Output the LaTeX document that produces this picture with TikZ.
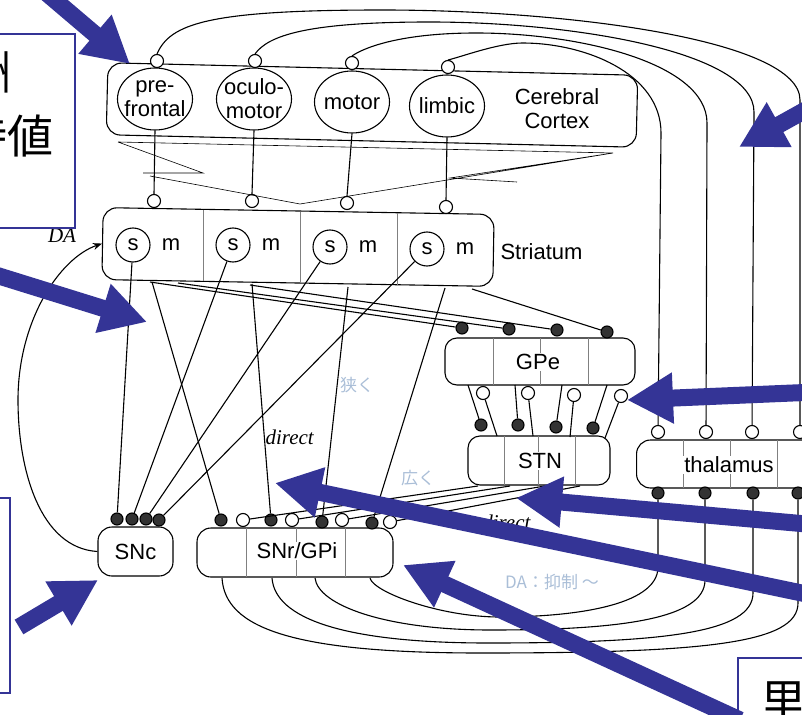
\documentclass[tikz,border=0pt]{standalone}
\usepackage{fontspec}
\setmainfont{Liberation Serif}
\setsansfont{Liberation Sans}
\newfontfamily\cjk{Noto Sans CJK JP}
\usepackage{tikz}
\usetikzlibrary{arrows.meta, shapes.geometric}
\usepackage{xcolor}
\definecolor{slideblue}{RGB}{52,52,150}
\definecolor{pencil}{RGB}{170,190,215}

\begin{document}
\begin{tikzpicture}[x=1pt, y=-1pt, line width=1.1pt,
    area/.style={draw, rounded corners=14pt, inner sep=0pt},
    region/.style={ellipse, draw, minimum width=75pt, minimum height=62pt, inner sep=0pt},
    unit/.style={circle, draw, minimum size=34pt, inner sep=0pt, font=\sffamily\fontsize{22}{22}\selectfont},
    exc/.style={circle, draw, fill=white, minimum size=13pt, inner sep=0pt},
    inh/.style={circle, draw, fill=black!80, minimum size=12pt, inner sep=0pt},
    lab/.style={font=\sffamily\fontsize{22}{24}\selectfont, align=center, inner sep=1pt},
    tag/.style={lab, fill=white},
    divider/.style={draw=black!50, line width=0.5pt},
    fine/.style={line width=0.6pt},
    ital/.style={font=\itshape\fontsize{21}{21}\selectfont, inner sep=0pt},
    pencilnote/.style={text=pencil, font=\cjk\fontsize{17}{17}\selectfont},
    note/.style={draw=slideblue, line width=1.6pt, fill=white},
    jp/.style={font=\cjk\fontsize{46}{50}\selectfont, inner sep=0pt},
    pointer/.style={draw=slideblue, line width=17pt, -{Triangle[length=46pt,width=48pt]}}]
\useasboundingbox (0,0) rectangle (802,714);

% cerebral cortex
\node[area, minimum width=530pt, minimum height=72pt, rotate=-1.35] (cortex) at (372,105) {};
\foreach \reg/\x/\y/\txt in {pf/155/99/{pre-\\frontal}, om/254/99/{oculo-\\motor}, mo/352/102/motor, lb/447/106/limbic}
  \node[region] (\reg) at (\x,\y) {} node[lab] at (\x,\y) {\txt};
\node[lab] (ctxlab) at (557,109) {Cerebral\\Cortex};
\foreach \n/\x/\y in {1/157/61, 2/255/61, 3/352/63, 4/448/67}
  \node[exc] (ct\n) at (\x,\y) {};

% striatum
\node[area, minimum width=391pt, minimum height=72pt, rotate=-1] (str) at (298,247) {};
\foreach \x/\ya/\yb in {203/210/281, 300/212/283, 397/213/285}
  \draw[divider] (\x,\ya) -- (\x,\yb);
\foreach \n/\x/\y in {1/133/245, 2/233/245, 3/330/247, 4/427/249}
  \node[unit] (s\n) at (\x,\y) {s} node[lab] at (\x+38,\y) {m};
\node[lab, anchor=west] (strlab) at (499,252) {Striatum};
\foreach \n/\x/\y in {1/154/201, 2/252/201, 3/347/203, 4/446/207}
  \node[exc] (st\n) at (\x,\y) {};

% GPe, STN, thalamus
\node[area, rounded corners=12pt, minimum width=190pt, minimum height=47pt] (gpe) at (540,361.5) {};
\foreach \x in {493,540,588} \draw[divider] (\x,338) -- (\x,385);
\node[tag] at (538,362) {GPe};
\node[area, rounded corners=12pt, minimum width=142pt, minimum height=49pt] (stn) at (539,460.5) {};
\foreach \x in {504,538,575} \draw[divider] (\x,436) -- (\x,485);
\node[tag] at (540,461) {STN};
\node[area, anchor=west, minimum width=230pt, minimum height=48pt] (thal) at (636,464) {};
\foreach \x in {683,730,777} \draw[divider] (\x,440) -- (\x,488);
\node[tag] at (729,465) {thalamus};

% SNc, SNr/GPi
\node[area, lab, minimum width=75pt, minimum height=49pt] (snc) at (135.5,551.5) {SNc};
\node[area, minimum width=196pt, minimum height=49pt] (snr) at (295,552.5) {};
\foreach \x in {246,296,345} \draw[divider] (\x,528) -- (\x,577);
\node[tag] at (297,551) {SNr/GPi};

% synapses
\foreach \n/\x/\y in {1/462/328, 2/509/329, 3/557/330, 4/607/332} \node[inh] (gd\n) at (\x,\y) {};
\foreach \n/\x/\y in {1/483/393, 2/528/393, 3/574/395, 4/621/396} \node[exc] (gc\n) at (\x,\y) {};
\foreach \n/\x/\y in {1/481/425, 2/518/425, 3/556/427, 4/593/428} \node[inh] (td\n) at (\x,\y) {};
\foreach \n/\x/\y in {1/658/432, 2/706/432, 3/752/432, 4/800/432} \node[exc] (tc\n) at (\x,\y) {};
\foreach \n/\x/\y in {1/658/493, 2/705/493, 3/753/493, 4/798/493} \node[inh] (tb\n) at (\x,\y) {};
\foreach \n/\x/\y in {1/117/519, 2/132/519, 3/146/519, 4/159/520} \node[inh] (cd\n) at (\x,\y) {};
\foreach \n/\x/\y in {1/221/520, 2/271/520, 3/322/522, 4/372/523} \node[inh] (sd\n) at (\x,\y) {};
\foreach \n/\x/\y in {1/243/520, 2/292/520, 3/342/520, 4/390/522} \node[exc] (sc\n) at (\x,\y) {};

% exit points on the boxes
\foreach \n/\x/\y in {1/150/282, 2/178/283, 3/250/285, 4/472/289} \coordinate (sg\n) at (\x,\y);
\foreach \n/\x/\y in {1/152/282, 2/252/284, 3/348/287, 4/445/288} \coordinate (sn\n) at (\x,\y);
\foreach \n/\x in {1/468, 2/515, 3/562, 4/607} \coordinate (gb\n) at (\x,385);
\foreach \n/\x/\y in {1/497/436, 2/533/436, 3/570/437, 4/605/438} \coordinate (tt\n) at (\x,\y);
\foreach \n/\x in {1/478, 2/510, 3/545, 4/580} \coordinate (tn\n) at (\x,486);

% projections
\foreach \reg/\n in {pf/1, om/2, mo/3, lb/4}
  \draw (\reg.south) -- (st\n.north);
\foreach \n in {1,...,4} {
  \draw (sg\n) -- (gd\n);
  \draw (sn\n) -- (sd\n);
  \draw (s\n) -- (cd\n);
  \draw (gb\n) -- (td\n);
  \draw (tt\n) -- (gc\n);
  \draw (tn\n) -- (sc\n);
}
% cortex -> thalamus loops
\foreach \n/\xc/\xr/\yt/\m in {1/157/800/10/4, 2/255/754/22/3, 3/352/707/33/2, 4/448/661/43/1}
  \draw (ct\n.north) .. controls ({\xc+13},{\yt+14}) and ({\xc+50},\yt) .. ({\xc+0.35*(\xr-\xc)},\yt)
        .. controls ({\xc+0.35*(\xr-\xc)+0.29*(\xr-\xc)},\yt) and (\xr,{\yt+30}) .. (\xr,{\yt+90}) -- (tc\m);
% SNr/GPi -> thalamus loops
\foreach \n/\xl/\xr/\yb in {1/370/658/617, 2/315/705/630, 3/272/753/643, 4/222/798/653} {
  \coordinate (sb\n) at (\xl,578);
  \draw (sb\n) .. controls ({\xl+3},{\yb-25}) and ({\xl+70},\yb) .. ({\xl+0.45*(\xr-\xl)},\yb)
        .. controls ({\xr-90},\yb) and (\xr,{\yb-10}) .. (\xr,{\yb-50}) -- (tb\n);
}
% funnel lines under the cortex
\draw[fine] (118,142) -- (613,153) (118,142) -- (203,173) -- (143,173)
  (150,176) -- (300,204) -- (613,153) -- (450,178) -- (517,182);

% dopamine
\draw[-{Stealth[length=9pt,width=7pt]}] (snc.west) .. controls (40,548) and (18,470) .. (18,400)
  .. controls (18,320) and (60,258) .. (str.west);
\node[ital] (da) at (62,236) {DA};
\node[ital, anchor=west] (dir) at (265,437) {direct};
\node[ital, anchor=east] (indir) at (531,522) {indirect};

% pencil notes
\node[pencilnote] at (357,385) {狭く};
\node[pencilnote] at (418,478) {広く};
\node[pencilnote] at (552,582) {DA：抑制 ～};

% slide overlay
\draw[note] (-10,34) rectangle (75,228);
\node[jp, anchor=east] (note1a) at (12,72) {将来の報酬};
\node[jp, anchor=east] (note1b) at (54,136) {総和の期待値};
\draw[note] (-10,498) rectangle (10,693);
\draw[note] (738,658) rectangle (830,740);
\node[jp, anchor=west] (note3) at (760,701) {里};

\coordinate (a1) at (30,-21);   \coordinate (b1) at (130,64);
\coordinate (a2) at (838,92);   \coordinate (b2) at (739,147);
\coordinate (a3) at (-30,267);  \coordinate (b3) at (147,322);
\coordinate (a4) at (840,391);  \coordinate (b4) at (627,400);
\coordinate (a5) at (840,527);  \coordinate (b5) at (516,498);
\coordinate (a6) at (840,601);  \coordinate (b6) at (275,483);
\coordinate (a7) at (740,720);  \coordinate (b7) at (403,565);
\coordinate (a8) at (19,627);   \coordinate (b8) at (98,580);
\foreach \n in {1,...,8}
  \draw[pointer] (a\n) -- (b\n);
\end{tikzpicture}
\end{document}
